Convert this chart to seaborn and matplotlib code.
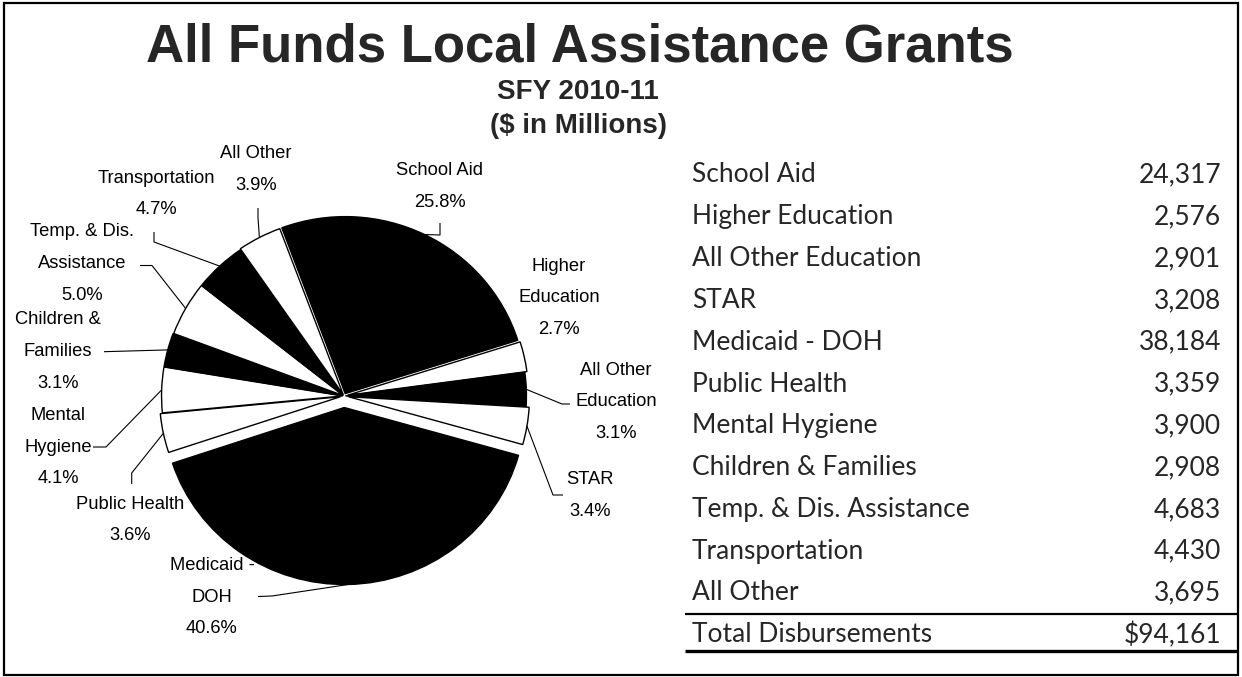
import numpy as np
import matplotlib
matplotlib.use("Agg")
import matplotlib.pyplot as plt
from matplotlib import font_manager
from matplotlib.patches import Rectangle
import seaborn as sns

# ---- data ----
categories = ["School Aid", "Higher Education", "All Other Education", "STAR",
              "Medicaid - DOH", "Public Health", "Mental Hygiene",
              "Children & Families", "Temp. & Dis. Assistance",
              "Transportation", "All Other"]
values = [24317, 2576, 2901, 3208, 38184, 3359, 3900, 2908, 4683, 4430, 3695]
pie_names = ["School Aid", "Higher\nEducation", "All Other\nEducation", "STAR",
             "Medicaid -\nDOH", "Public Health", "Mental\nHygiene",
             "Children &\nFamilies", "Temp. & Dis.\nAssistance",
             "Transportation", "All Other"]
slice_colors = ["black", "white", "black", "white", "black", "white",
                "white", "black", "white", "black", "white"]
total_label = "Total Disbursements"
title = "All Funds Local Assistance Grants"
subtitles = ["SFY 2010-11", "($ in Millions)"]

total = sum(values)

# ---- style ----
sns.set_theme(style="white")
installed = {f.name for f in font_manager.fontManager.ttflist}
if "Liberation Sans Narrow" in installed:
    pie_font, pie_size = "Liberation Sans Narrow", 16
else:
    pie_font, pie_size = "Liberation Sans", 13.2
table_font = "Lato" if "Lato" in installed else "DejaVu Sans"
plt.rcParams["font.family"] = ["Liberation Sans", "DejaVu Sans"]

W, H = 1242, 677
fig = plt.figure(figsize=(W / 100, H / 100), dpi=100)
fig.patch.set_facecolor("white")

# ---- pie ----
cx, cy = 344, 396          # pie centre, pixels from top-left
rx, ry = 181, 177          # pie radii in pixels
half = 215
ax = fig.add_axes([(cx - half) / W, 1 - (cy + half) / H, 2 * half / W, 2 * half / H])
explode = [0.015, 0.02, 0.008, 0.025, 0.065, 0.02, 0.008, 0.008, 0.005, 0.005, 0.01]
wedges, _ = ax.pie(values, colors=slice_colors, startangle=110.5,
                   counterclock=False, explode=explode,
                   wedgeprops=dict(edgecolor="black", linewidth=1.0))
ax.set_aspect("auto")
ax.set_xlim(-half / rx, half / rx)
ax.set_ylim(-half / ry, half / ry)
ax.axis("off")

# overlay in pixel coordinates (y downwards)
ov = fig.add_axes([0, 0, 1, 1])
ov.set_xlim(0, W)
ov.set_ylim(H, 0)
ov.axis("off")

fig.canvas.draw()


def anchor(w):
    t = np.deg2rad((w.theta1 + w.theta2) / 2)
    x = w.center[0] + w.r * np.cos(t)
    y = w.center[1] + w.r * np.sin(t)
    px, py = ax.transData.transform((x, y))
    return px, H - py


# label block centres and leader elbows (pixels)
label_pos = [(440, 186.5), (559, 298), (616, 402), (590, 495.5), (212, 597),
             (130, 520), (58, 447), (58, 351.5), (82, 263.5), (156, 194),
             (256, 169.5)]
leaders = {0: [(440, 223), (440, 235)],
           2: [(570, 404), (562, 404)],
           3: [(563, 495), (553, 495)],
           4: [(258, 596.5), (272, 596)],
           5: [(131.7, 484), (131.7, 473)],
           6: [(93, 447), (106, 447)],
           7: [(104, 351.7)],
           8: [(140, 265.5), (152, 265.5)],
           9: [(154, 232), (154, 242)],
           10: [(258, 208), (258, 218)]}

line_gap = 31.5
for i, w in enumerate(wedges):
    lines = pie_names[i].split("\n") + [f"{values[i] / total * 100:.1f}%"]
    lx, ly = label_pos[i]
    n = len(lines)
    for k, s in enumerate(lines):
        ov.text(lx, ly + (k - (n - 1) / 2) * line_gap, s, ha="center",
                va="center", family=pie_font, fontsize=pie_size, color="black")
    if i in leaders:
        pts = leaders[i] + [anchor(w)]
        ov.plot([p[0] for p in pts], [p[1] for p in pts], color="black",
                lw=0.8, solid_capstyle="butt")

# ---- titles ----
ov.text(580, 61, title, ha="center", va="baseline", fontsize=38,
        fontweight="bold", family="Liberation Sans")
ov.text(578, 92, subtitles[0], ha="center", va="center", fontsize=20,
        fontweight="bold", family="Liberation Sans")
ov.text(578, 126, subtitles[1], ha="center", va="center", fontsize=20,
        fontweight="bold", family="Liberation Sans")

# ---- table ----
row0, step = 175, 41.8
lab_x, val_x = 692, 1221
for i, (c, v) in enumerate(zip(categories, values)):
    y = row0 + i * step
    ov.text(lab_x, y, c, ha="left", va="center", family=table_font, fontsize=19)
    ov.text(val_x, y, f"{v:,}", ha="right", va="center", family=table_font, fontsize=19)
yt = row0 + len(categories) * step
ov.text(lab_x, yt, total_label, ha="left", va="center", family=table_font, fontsize=19)
ov.text(val_x, yt, f"${total:,}", ha="right", va="center", family=table_font, fontsize=19)
ov.plot([685, 1238], [614, 614], color="black", lw=1.6, solid_capstyle="butt")
ov.plot([685, 1238], [651, 651], color="black", lw=2.4, solid_capstyle="butt")

# ---- frame ----
ov.add_patch(Rectangle((4, 3), 1234, 672, fill=False, edgecolor="black", lw=1.6))

fig.savefig("out.png", dpi=100, facecolor="white")
